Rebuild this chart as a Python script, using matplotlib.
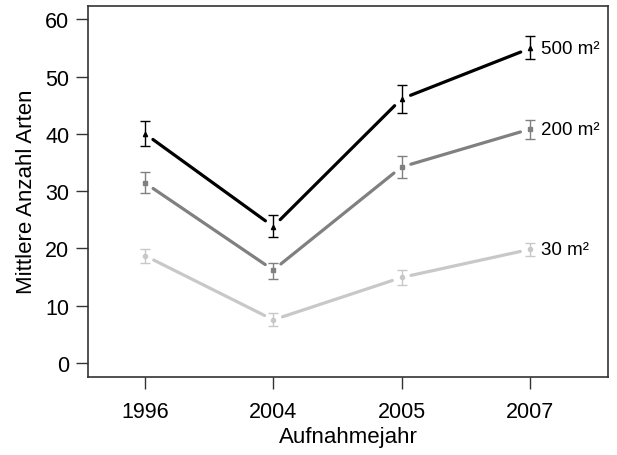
import matplotlib
matplotlib.use("Agg")
import matplotlib.pyplot as plt

years = ["1996", "2004", "2005", "2007"]
series_names = ["500 m²", "200 m²", "30 m²"]
mean_500 = [40.0, 23.8, 46.1, 54.9]
lo_500 = [37.9, 22.0, 43.7, 53.1]
hi_500 = [42.2, 25.8, 48.5, 57.0]
mean_200 = [31.4, 16.2, 34.2, 40.8]
lo_200 = [29.6, 14.6, 32.2, 39.1]
hi_200 = [33.3, 17.5, 36.2, 42.4]
mean_30 = [18.7, 7.5, 14.9, 19.8]
lo_30 = [17.5, 6.4, 13.6, 18.7]
hi_30 = [19.9, 8.7, 16.2, 20.9]

plt.rcParams['font.family'] = ['Liberation Sans', 'DejaVu Sans']

fig = plt.figure(figsize=(6.17, 4.56), dpi=100)
ax = fig.add_axes([0.1426, 0.1721, 0.8428, 0.8136])

colors = ["#000000", "#808080", "#c8c8c8"]
markers = ["^", "s", "o"]
data = [(mean_500, lo_500, hi_500), (mean_200, lo_200, hi_200), (mean_30, lo_30, hi_30)]
x = list(range(len(years)))

for (m, lo, hi), c, mk, name in zip(data, colors, markers, series_names):
    yerr = [[mi - l for mi, l in zip(m, lo)], [h - mi for mi, h in zip(m, hi)]]
    ax.errorbar(x, m, yerr=yerr, fmt=mk, color=c, ms=3, capsize=3.5,
                elinewidth=1.0, capthick=1.0, zorder=3)
    for i in range(len(x) - 1):
        ax.annotate("", xy=(x[i + 1], m[i + 1]), xytext=(x[i], m[i]),
                    arrowprops=dict(arrowstyle="-", color=c, lw=2.3,
                                    shrinkA=7, shrinkB=7), zorder=2)
    ax.annotate(name, xy=(x[-1], m[-1]), xytext=(8, 0), textcoords="offset points",
                ha="left", va="center", fontsize=13.5)

ax.set_xlim(-0.445, 3.61)
ax.set_ylim(-2.4, 62.4)
ax.set_xticks(x)
ax.set_xticklabels(years)
ax.set_yticks([0, 10, 20, 30, 40, 50, 60])
ax.tick_params(axis="both", direction="out", length=8.5, width=1.0, colors="#333333",
               labelsize=15.5, labelcolor="black", pad=5)
ax.tick_params(axis="x", pad=9)
for s in ax.spines.values():
    s.set_color("#333333")
    s.set_linewidth(1.2)
ax.set_xlabel("Aufnahmejahr", fontsize=16, labelpad=3)
ax.set_ylabel("Mittlere Anzahl Arten", fontsize=16, labelpad=6)

fig.savefig("out.png", dpi=100)
